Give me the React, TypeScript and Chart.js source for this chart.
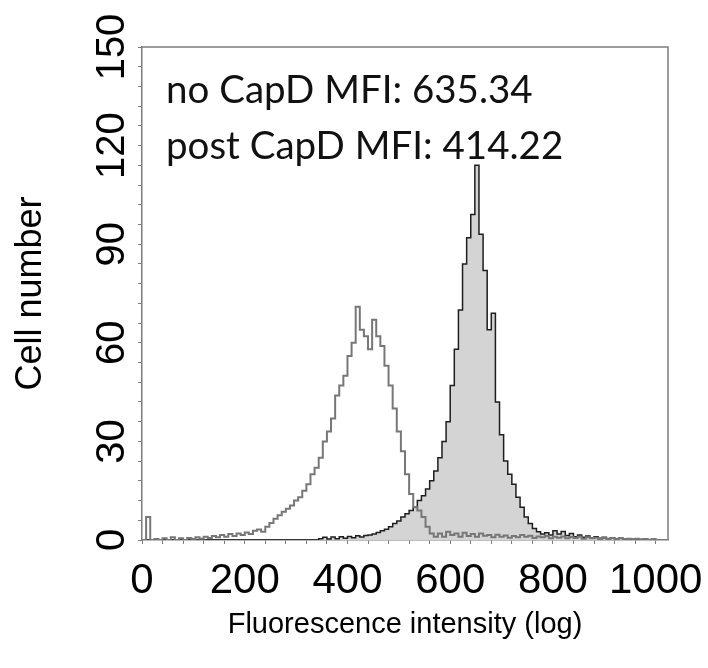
import React, { useEffect, useRef } from 'react';
import { Chart, registerables } from 'chart.js';

Chart.register(...registerables);

// Histogram channel width (fluorescence channels 0..1023)
const BIN_WIDTH = 8;

// post CapD (open grey histogram), one value per 8-channel bin starting at channel 0
const POST_CAPD = [
  0, 7, 0, 0.3, 0, 0.5, 0, 0.8, 0, 0.5,
  0, 0.6, 0.3, 0.8, 0.4, 1, 0.6, 1.2, 0.8, 1.5,
  1.0, 1.8, 1.2, 2.0, 1.5, 2.3, 1.8, 2.8, 3.2, 2.5,
  4, 5.2, 6.5, 7.5, 8.6, 9.5, 10.5, 12, 13, 15,
  17, 20, 22, 25, 30, 33, 37, 44, 47, 50,
  56, 60, 71, 64, 62, 58, 67, 62, 59, 53,
  47, 40, 33, 27, 20, 14, 10, 9, 7, 4,
  2, 1, 2, 1, 2.5, 1.5, 2, 1, 2.2, 1.2,
  1.8, 1, 2, 1.3, 1.5, 0.8, 1.6, 1, 1.4, 0.7,
  1.2, 0.8, 1.5, 1, 1.3, 0.6, 1.1, 0.8, 1.2, 0.5,
  1.0, 0.7, 1.1, 0.5, 0.9, 0.6, 1.0, 0.4, 0.8, 0.5,
  0.7, 0.3, 0.6, 0.4, 0.6, 0.3, 0.5, 0.3, 0.4, 0.2,
  0.4, 0.2, 0.3, 0.1, 0.2, 0, 0, 0,
];

// no CapD (filled histogram)
const NO_CAPD = [
  0, 0, 0, 0, 0, 0, 0, 0, 0, 0,
  0, 0, 0, 0, 0, 0, 0, 0, 0, 0,
  0, 0, 0, 0, 0, 0, 0, 0, 0, 0,
  0, 0, 0, 0, 0, 0, 0, 0, 0, 0,
  0, 0, 0, 0.4, 0.8, 0.3, 0.9, 0.4, 1.0, 0.5,
  1.1, 0.7, 1.3, 0.9, 1.4, 1.5, 1.8, 2.3, 2.8, 3.3,
  4, 5, 5.8, 7, 8, 9, 10, 12, 13.5, 15.5,
  18, 21, 25, 30, 36, 47, 58, 70, 84, 92,
  99, 114, 93, 82, 64, 69, 42, 32, 24, 20,
  17, 13, 10, 7, 5, 3.5, 2.5, 1.8, 2.2, 1.5,
  2.8, 1.8, 2.6, 1.4, 2, 1, 1.5, 0.8, 1.2, 0.6,
  1.0, 0.5, 0.8, 0.4, 0.7, 0.3, 0.5, 0.2, 0.4, 0.2,
  0.3, 0.1, 0.2, 0, 0.2, 0, 0, 0,
];

const X_TICK_LABELS = [0, 200, 400, 600, 800, 1000];
const Y_TICK_LABELS = [0, 30, 60, 90, 120, 150];
const ANNOTATION_LINES = ['no CapD MFI: 635.34', 'post CapD MFI: 414.22'];
const X_TITLE = 'Fluorescence intensity (log)';
const Y_TITLE = 'Cell number';

const SANS = '"Liberation Sans", Arial, Helvetica, sans-serif';

const toPoints = (arr: number[]) => arr.map((y, i) => ({ x: i * BIN_WIDTH + BIN_WIDTH / 2, y }));

const framePlugin = {
  id: 'frame',
  afterDraw(chart: any) {
    const { ctx, chartArea: a } = chart;
    ctx.save();
    ctx.strokeStyle = '#7d7d7d';
    ctx.lineWidth = 1.5;
    ctx.beginPath();
    ctx.moveTo(a.left, a.top);
    ctx.lineTo(a.right, a.top);
    ctx.lineTo(a.right, a.bottom);
    ctx.stroke();
    ctx.restore();
  },
};

const annotationPlugin = {
  id: 'annot',
  afterDraw(chart: any) {
    const { ctx, chartArea: a } = chart;
    ctx.save();
    ctx.fillStyle = '#111';
    ctx.font = '38.5px Lato, "Open Sans", sans-serif';
    ctx.textBaseline = 'alphabetic';
    ctx.textAlign = 'left';
    ctx.fillText(ANNOTATION_LINES[0], a.left + 24, a.top + 56);
    ctx.fillText(ANNOTATION_LINES[1], a.left + 24, a.top + 112);
    ctx.restore();
  },
};

export default function App() {
  const ref = useRef<HTMLCanvasElement | null>(null);
  useEffect(() => {
    if (!ref.current) return;
    const chart = new Chart(ref.current, {
      type: 'line',
      data: {
        datasets: [
          {
            label: 'post CapD',
            data: toPoints(POST_CAPD),
            borderColor: '#777',
            borderWidth: 2,
            backgroundColor: 'rgba(0,0,0,0)',
            fill: false,
            stepped: 'middle',
            pointRadius: 0,
          },
          {
            label: 'no CapD',
            data: toPoints(NO_CAPD),
            borderColor: '#1e1e1e',
            borderWidth: 1.5,
            backgroundColor: '#d4d4d4',
            fill: 'origin',
            stepped: 'middle',
            pointRadius: 0,
          },
        ],
      },
      options: {
        responsive: false,
        animation: false,
        devicePixelRatio: 1,
        layout: { padding: { top: 47, right: 40, left: 0, bottom: 0 } },
        plugins: { legend: { display: false }, tooltip: { enabled: false } },
        scales: {
          x: {
            type: 'linear',
            min: 0,
            max: 1024,
            afterBuildTicks: (s: any) => {
              s.ticks = s.ticks.filter((t: any) => t.value >= 0 && t.value <= 1000);
            },
            afterFit: (s: any) => {
              s.height = 128;
              s.paddingLeft = 0;
              s.paddingRight = 0;
            },
            ticks: {
              stepSize: 40,
              includeBounds: false,
              autoSkip: false,
              minRotation: 0,
              maxRotation: 0,
              padding: 12,
              color: '#000',
              font: { family: SANS, size: 42 },
              callback: (v: any) => (X_TICK_LABELS.includes(v) ? String(v) : ''),
            },
            grid: { drawOnChartArea: false, drawTicks: true, tickLength: 4, color: '#7d7d7d', lineWidth: 1 },
            border: { display: true, color: '#7d7d7d', width: 1.5 },
            title: {
              display: true,
              text: X_TITLE,
              color: '#000',
              font: { family: SANS, size: 29 },
              padding: { top: 0, bottom: 26 },
            },
          },
          y: {
            type: 'linear',
            min: 0,
            max: 150,
            afterFit: (s: any) => {
              s.width = 142;
              s.paddingTop = 0;
              s.paddingBottom = 0;
            },
            ticks: {
              stepSize: 6,
              autoSkip: false,
              minRotation: 90,
              maxRotation: 90,
              crossAlign: 'center',
              padding: -8,
              color: '#000',
              font: { family: SANS, size: 40 },
              callback: (v: any) => (Y_TICK_LABELS.includes(v) ? String(v) : ''),
            },
            grid: { drawOnChartArea: false, drawTicks: true, tickLength: 4, color: '#7d7d7d', lineWidth: 1 },
            border: { display: true, color: '#7d7d7d', width: 1.5 },
            title: {
              display: true,
              text: Y_TITLE,
              color: '#000',
              font: { family: SANS, size: 36 },
              padding: { top: 9, bottom: 0 },
            },
          },
        },
      },
      plugins: [framePlugin, annotationPlugin],
    } as any);
    return () => chart.destroy();
  }, []);

  return (
    <div style={{ position: 'fixed', left: 0, top: 0, width: 708, height: 668, background: '#fff' }}>
      <canvas ref={ref} width={708} height={668} style={{ width: 708, height: 668 }} />
    </div>
  );
}
